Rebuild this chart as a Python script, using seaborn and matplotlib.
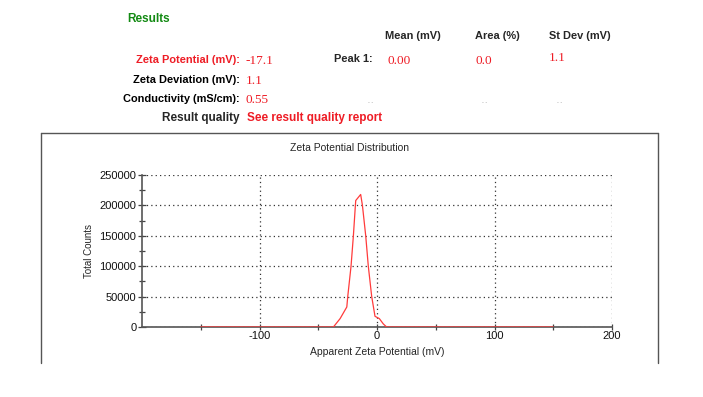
import numpy as np
import pandas as pd
import matplotlib
matplotlib.use('Agg')
import matplotlib.pyplot as plt
from matplotlib.lines import Line2D
from matplotlib.ticker import MultipleLocator, FixedLocator
import seaborn as sns

# distribution
zeta_mv = [-150, -37.1, -31.4, -25.7, -24.9, -22.1, -20.1, -18.4, -18.1, -13.9,
           -12.4, -9.6, -7.4, -4.5, -1.7, 2.0, 5.4, 8.2, 150]
total_counts = [0, 0, 13800, 32900, 50000, 100000, 150000, 200000, 208000, 218000,
                200000, 150000, 100000, 50000, 17600, 13800, 5000, 0, 0]

x_major = [-100, 0, 100, 200]
x_minor = [-150, -50, 50, 150]
y_major = [0, 50000, 100000, 150000, 200000, 250000]

# results table
summary_labels = ['Zeta Potential (mV):', 'Zeta Deviation (mV):', 'Conductivity (mS/cm):']
summary_values = ['-17.1', '1.1', '0.55']
peak_headers = ['Mean (mV)', 'Area (%)', 'St Dev (mV)']
peak1_values = ['0.00', '0.0', '1.1']

W, H = 703, 397
RED = '#ee1c25'

sns.set_style('white')
plt.rcParams['font.family'] = ['Liberation Sans', 'DejaVu Sans']
plt.rcParams['axes.unicode_minus'] = False

fig = plt.figure(figsize=(W / 100, H / 100), dpi=100)


def px(x, y):
    return x / W, 1 - y / H


def put(x, y, s, **kw):
    fx, fy = px(x, y)
    fig.text(fx, fy, s, va='center', **kw)


# header block
put(127, 19, 'Results', color='#138a13', fontsize=8.5, fontweight='bold')
for x, s in zip([385, 475, 549], peak_headers):
    put(x, 36, s, fontsize=7.9, fontweight='bold')
label_color = [RED, 'black', 'black']
for y, lab, val, c in zip([60, 80, 99], summary_labels, summary_values, label_color):
    put(240, y, lab, ha='right', color=c, fontsize=7.9, fontweight='bold')
    put(246, y + 1, val, color=RED, fontsize=9.5, family='Liberation Serif')
put(373, 59, 'Peak 1:', ha='right', fontsize=7.9, fontweight='bold')
for x, y, v in zip([387, 475, 549], [61, 61, 58], peak1_values):
    put(x, y, v, color=RED, fontsize=9.5, family='Liberation Serif')
put(239, 118, 'Result quality', ha='right', fontsize=8.5, fontweight='bold')
put(247, 118, 'See result quality report', color=RED, fontsize=8.5, fontweight='bold')
# faint leftovers of the empty rows
for x in [368, 482, 557]:
    put(x, 103, '- -', color='#999999', fontsize=4)

# frame around the chart panel
fx0, fy0 = px(41, 133)
fx1, fy1 = px(658, 363)
for xs, ys in [([fx0, fx1], [fy0, fy0]), ([fx0, fx0], [fy0, fy1]), ([fx1, fx1], [fy0, fy1])]:
    fig.add_artist(Line2D(xs, ys, color='#555555', lw=1.0, transform=fig.transFigure))

put(349, 148, 'Zeta Potential Distribution', ha='center', fontsize=7.5)

# main axes
l, b = px(142, 327)
r, t = px(612, 175)
ax = fig.add_axes([l, b, r - l, t - b])

df = pd.DataFrame({'zeta': zeta_mv, 'counts': total_counts})
sns.lineplot(data=df, x='zeta', y='counts', ax=ax, color='#ff3b3b', lw=0.9,
             sort=False, estimator=None, zorder=3)

ax.set_xlim(-200, 200)
ax.set_ylim(0, 250000)
ax.xaxis.set_major_locator(FixedLocator(x_major))
ax.xaxis.set_minor_locator(FixedLocator(x_minor))
ax.yaxis.set_major_locator(FixedLocator(y_major))
ax.yaxis.set_minor_locator(MultipleLocator(25000))
ax.set_yticklabels([str(v) for v in y_major])

ax.grid(True, which='major', linestyle=(0, (1, 2.5)), color='#333333', lw=0.9)
ax.set_axisbelow(True)
for side in ['top', 'right']:
    ax.spines[side].set_visible(False)
for side in ['left', 'bottom']:
    ax.spines[side].set_color('#555555')
    ax.spines[side].set_linewidth(1.2)

ax.tick_params(which='both', bottom=True, left=True, top=False, right=False)
ax.tick_params(which='major', direction='inout', length=6, width=0.9, color='#444444',
               labelsize=8, labelcolor='#111111', pad=1)
ax.tick_params(which='minor', direction='inout', length=5, width=0.9, color='#444444')
ax.tick_params(axis='x', which='both', length=4)

ax.set_xlabel('Apparent Zeta Potential (mV)', fontsize=7.5, labelpad=4)
ax.set_ylabel('Total Counts', fontsize=7, labelpad=4)

fig.savefig('out.png', dpi=100)
